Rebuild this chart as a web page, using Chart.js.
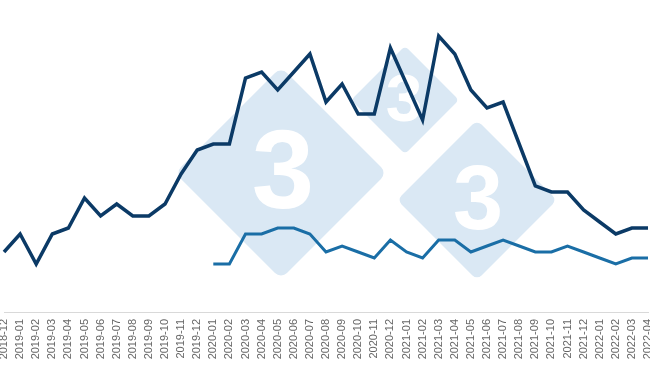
<!DOCTYPE html>
<html><head><meta charset="utf-8">
<script src="https://cdn.jsdelivr.net/npm/chart.js@4/dist/chart.umd.min.js"></script>
<style>html,body{margin:0;padding:0;background:#fff;overflow:hidden}#wrap{width:650px;height:366px;position:relative}</style>
</head><body><div id="wrap"><canvas id="c" width="650" height="366"></canvas></div>
<script>
const months = ["2018-12","2019-01","2019-02","2019-03","2019-04","2019-05","2019-06","2019-07","2019-08","2019-09","2019-10","2019-11","2019-12","2020-01","2020-02","2020-03","2020-04","2020-05","2020-06","2020-07","2020-08","2020-09","2020-10","2020-11","2020-12","2021-01","2021-02","2021-03","2021-04","2021-05","2021-06","2021-07","2021-08","2021-09","2021-10","2021-11","2021-12","2022-01","2022-02","2022-03","2022-04"];
const seriesDark = [10,13,8,13,14,19,16,18,16,16,18,23,27,28,28,39,40,37,40,43,35,38,33,33,44,38,32,46,43,37,34,35,28,21,20,20,17,15,13,14,14];
const seriesLight = [null,null,null,null,null,null,null,null,null,null,null,null,null,8,8,13,13,14,14,13,10,11,10,9,12,10,9,12,12,10,11,12,11,10,10,11,10,9,8,9,9];

const watermark = {
  id:'watermark',
  beforeDatasetsDraw(chart){
    const ctx = chart.ctx;
    // [centerX, centerY, half-diagonal, font size, glyph centre x, glyph centre y]
    const shapes = [[281,173,106,112,283,168],[405,100,54,66,404,98],[477,200,80,90,478,197]];
    ctx.save();
    shapes.forEach(([cx,cy,r,fs,gx,gy])=>{
      ctx.save();
      ctx.translate(cx,cy);
      ctx.rotate(Math.PI/4);
      const s = r/Math.SQRT2;
      const rad = r*0.08;
      ctx.fillStyle = '#dae8f4';
      ctx.beginPath();
      ctx.roundRect(-s,-s,2*s,2*s,rad);
      ctx.fill();
      ctx.restore();
      ctx.fillStyle = '#ffffff';
      ctx.font = 'bold '+fs+'px "Liberation Sans", Arial, sans-serif';
      ctx.textAlign = 'center';
      ctx.textBaseline = 'alphabetic';
      ctx.fillText('3', gx, gy + fs*0.355);
    });
    ctx.restore();
  }
};

new Chart(document.getElementById('c'), {
  type:'line',
  data:{
    labels: months,
    datasets:[
      {data: seriesDark, borderColor:'#0b3a66', borderWidth:3.5, pointRadius:0, tension:0, fill:false, borderJoinStyle:'miter'},
      {data: seriesLight, borderColor:'#1a6ea6', borderWidth:3, pointRadius:0, tension:0, fill:false, spanGaps:false}
    ]
  },
  options:{
    responsive:false, animation:false,
    layout:{padding:{left:4,right:2,top:0,bottom:0}},
    plugins:{legend:{display:false}, tooltip:{enabled:false}},
    scales:{
      x:{
        grid:{display:false, drawTicks:false},
        border:{display:true, color:'#d9d9d9', width:1},
        ticks:{maxRotation:90, minRotation:90, autoSkip:false, padding:7, color:'#666', font:{family:'"Liberation Sans", Arial, sans-serif', size:11}},
        afterFit(scale){ scale.height = 54; scale.paddingLeft = 0; scale.paddingRight = 0; }
      },
      y:{display:false, min:0, max:52}
    },
    clip:false
  },
  plugins:[watermark]
});
</script></body></html>
